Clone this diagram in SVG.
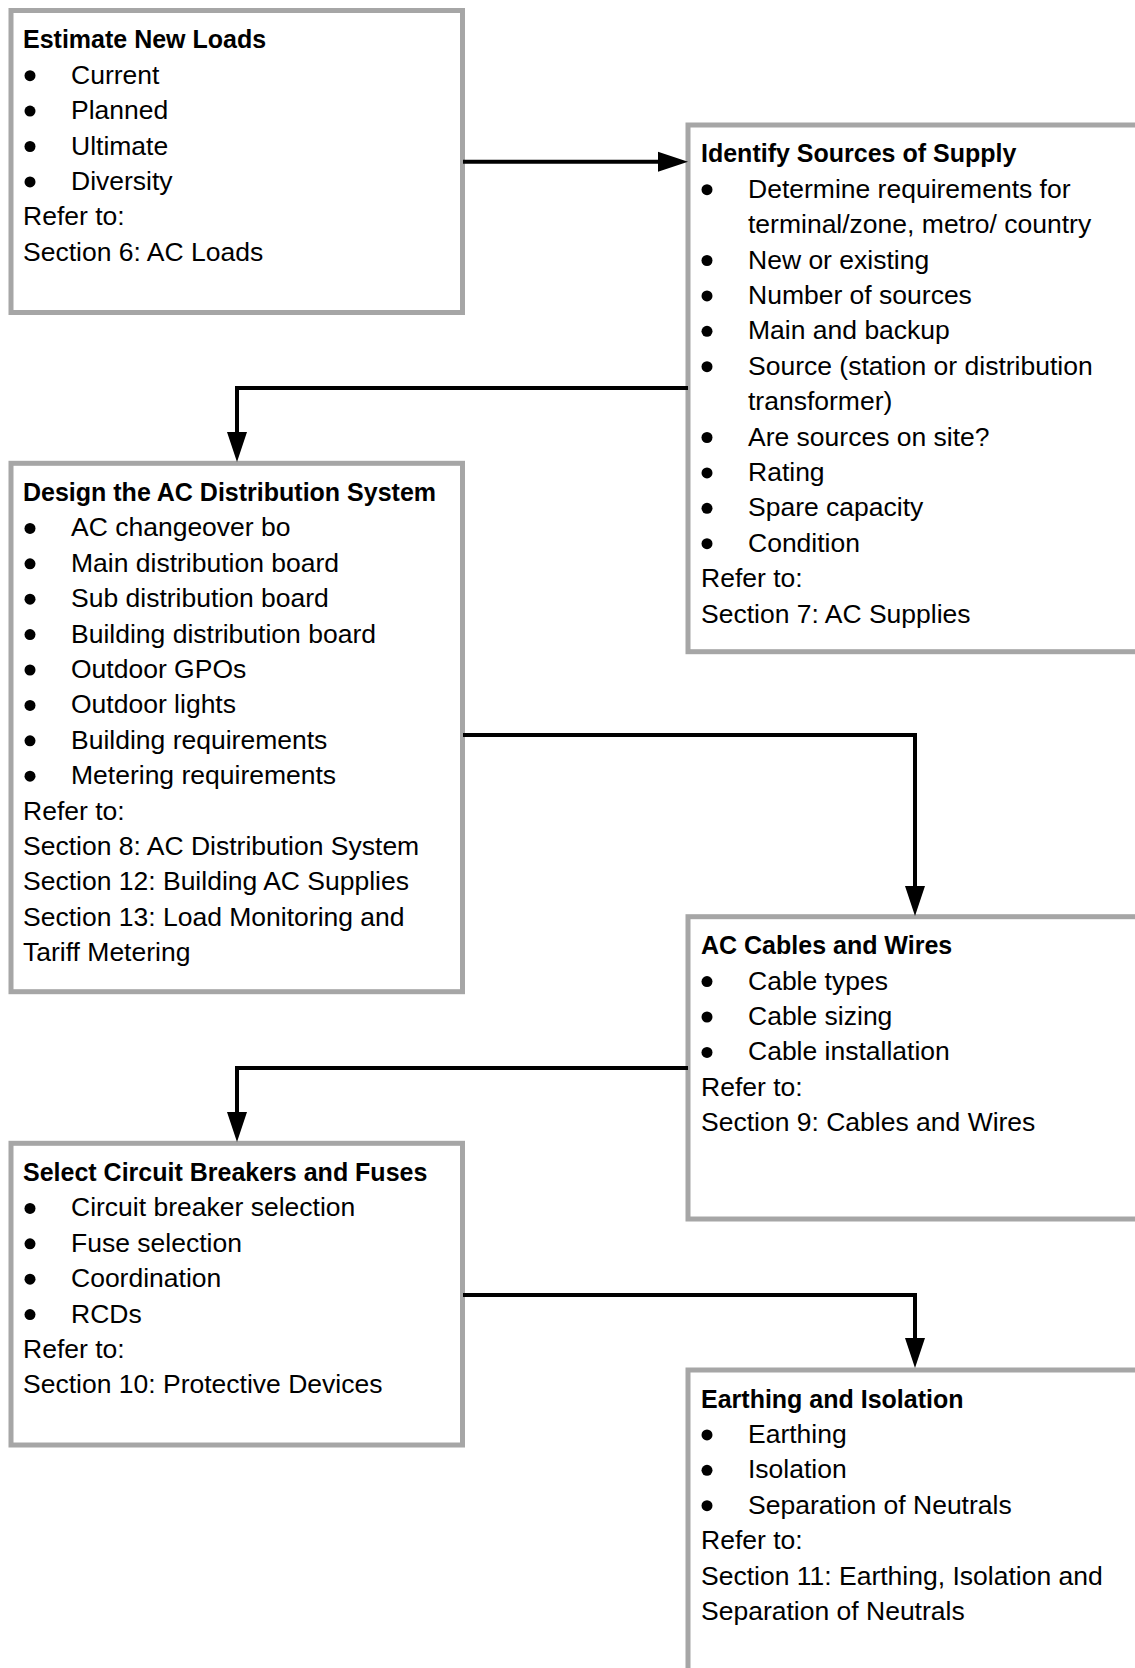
<svg xmlns="http://www.w3.org/2000/svg" width="1135" height="1668" viewBox="0 0 1135 1668">
<style>
.box{fill:#fff;stroke:#a6a6a6;stroke-width:5}
.t{font-family:"Liberation Sans",Arial,sans-serif;font-size:26.5px;fill:#000}
.h{font-family:"Liberation Sans",Arial,sans-serif;font-size:25px;font-weight:bold;fill:#000}
.b{fill:#000}
.c{fill:none;stroke:#000;stroke-width:4}
</style>
<defs>
<marker id="ah" viewBox="0 0 30 20" refX="20" refY="10" markerWidth="30" markerHeight="20" markerUnits="userSpaceOnUse" orient="auto" overflow="visible">
<path d="M0,0 L30,10 L0,20 Z" fill="#000"/>
</marker>
</defs>
<rect width="1135" height="1668" fill="#fff"/>

<g id="n1">
<rect class="box" x="11" y="10.5" width="451.5" height="302"/>
<text class="h" x="23" y="48.3">Estimate New Loads</text>
<circle class="b" cx="30" cy="75.7" r="5.5"/><text class="t" x="71" y="83.7">Current</text>
<circle class="b" cx="30" cy="111.1" r="5.5"/><text class="t" x="71" y="119.1">Planned</text>
<circle class="b" cx="30" cy="146.5" r="5.5"/><text class="t" x="71" y="154.5">Ultimate</text>
<circle class="b" cx="30" cy="181.9" r="5.5"/><text class="t" x="71" y="189.9">Diversity</text>
<text class="t" x="23" y="225.3">Refer to:</text>
<text class="t" x="23" y="260.7">Section 6: AC Loads</text>
</g>

<g id="n2">
<rect class="box" x="688" y="125" width="470" height="526.7"/>
<text class="h" x="701" y="162.3">Identify Sources of Supply</text>
<circle class="b" cx="707" cy="189.7" r="5.5"/><text class="t" x="748" y="197.7">Determine requirements for</text>
<text class="t" x="748" y="233.1">terminal/zone, metro/ country</text>
<circle class="b" cx="707" cy="260.5" r="5.5"/><text class="t" x="748" y="268.5">New or existing</text>
<circle class="b" cx="707" cy="295.9" r="5.5"/><text class="t" x="748" y="303.9">Number of sources</text>
<circle class="b" cx="707" cy="331.3" r="5.5"/><text class="t" x="748" y="339.3">Main and backup</text>
<circle class="b" cx="707" cy="366.7" r="5.5"/><text class="t" x="748" y="374.7">Source (station or distribution</text>
<text class="t" x="748" y="410.1">transformer)</text>
<circle class="b" cx="707" cy="437.5" r="5.5"/><text class="t" x="748" y="445.5">Are sources on site?</text>
<circle class="b" cx="707" cy="472.9" r="5.5"/><text class="t" x="748" y="480.9">Rating</text>
<circle class="b" cx="707" cy="508.3" r="5.5"/><text class="t" x="748" y="516.3">Spare capacity</text>
<circle class="b" cx="707" cy="543.7" r="5.5"/><text class="t" x="748" y="551.7">Condition</text>
<text class="t" x="701" y="587.1">Refer to:</text>
<text class="t" x="701" y="622.5">Section 7: AC Supplies</text>
</g>

<g id="n3">
<rect class="box" x="11" y="463.3" width="451.5" height="528.4"/>
<text class="h" x="23" y="501">Design the AC Distribution System</text>
<circle class="b" cx="30" cy="528.4" r="5.5"/><text class="t" x="71" y="536.4">AC changeover bo</text>
<circle class="b" cx="30" cy="563.8" r="5.5"/><text class="t" x="71" y="571.8">Main distribution board</text>
<circle class="b" cx="30" cy="599.2" r="5.5"/><text class="t" x="71" y="607.2">Sub distribution board</text>
<circle class="b" cx="30" cy="634.6" r="5.5"/><text class="t" x="71" y="642.6">Building distribution board</text>
<circle class="b" cx="30" cy="670" r="5.5"/><text class="t" x="71" y="678">Outdoor GPOs</text>
<circle class="b" cx="30" cy="705.4" r="5.5"/><text class="t" x="71" y="713.4">Outdoor lights</text>
<circle class="b" cx="30" cy="740.8" r="5.5"/><text class="t" x="71" y="748.8">Building requirements</text>
<circle class="b" cx="30" cy="776.2" r="5.5"/><text class="t" x="71" y="784.2">Metering requirements</text>
<text class="t" x="23" y="819.6">Refer to:</text>
<text class="t" x="23" y="855">Section 8: AC Distribution System</text>
<text class="t" x="23" y="890.4">Section 12: Building AC Supplies</text>
<text class="t" x="23" y="925.8">Section 13: Load Monitoring and</text>
<text class="t" x="23" y="961.2">Tariff Metering</text>
</g>

<g id="n4">
<rect class="box" x="688" y="916.7" width="470" height="302.3"/>
<text class="h" x="701" y="954.2">AC Cables and Wires</text>
<circle class="b" cx="707" cy="981.6" r="5.5"/><text class="t" x="748" y="989.6">Cable types</text>
<circle class="b" cx="707" cy="1017" r="5.5"/><text class="t" x="748" y="1025">Cable sizing</text>
<circle class="b" cx="707" cy="1052.4" r="5.5"/><text class="t" x="748" y="1060.4">Cable installation</text>
<text class="t" x="701" y="1095.8">Refer to:</text>
<text class="t" x="701" y="1131.2">Section 9: Cables and Wires</text>
</g>

<g id="n5">
<rect class="box" x="11" y="1143.3" width="451.5" height="301.7"/>
<text class="h" x="23" y="1181">Select Circuit Breakers and Fuses</text>
<circle class="b" cx="30" cy="1208.4" r="5.5"/><text class="t" x="71" y="1216.4">Circuit breaker selection</text>
<circle class="b" cx="30" cy="1243.8" r="5.5"/><text class="t" x="71" y="1251.8">Fuse selection</text>
<circle class="b" cx="30" cy="1279.2" r="5.5"/><text class="t" x="71" y="1287.2">Coordination</text>
<circle class="b" cx="30" cy="1314.6" r="5.5"/><text class="t" x="71" y="1322.6">RCDs</text>
<text class="t" x="23" y="1358">Refer to:</text>
<text class="t" x="23" y="1393.4">Section 10: Protective Devices</text>
</g>

<g id="n6">
<rect class="box" x="688" y="1370" width="470" height="330"/>
<text class="h" x="701" y="1407.5">Earthing and Isolation</text>
<circle class="b" cx="707" cy="1434.9" r="5.5"/><text class="t" x="748" y="1442.9">Earthing</text>
<circle class="b" cx="707" cy="1470.3" r="5.5"/><text class="t" x="748" y="1478.3">Isolation</text>
<circle class="b" cx="707" cy="1505.7" r="5.5"/><text class="t" x="748" y="1513.7">Separation of Neutrals</text>
<text class="t" x="701" y="1549.1">Refer to:</text>
<text class="t" x="701" y="1584.5">Section 11: Earthing, Isolation and</text>
<text class="t" x="701" y="1619.9">Separation of Neutrals</text>
</g>

<g id="connectors">
<path class="c" d="M463,161.7 H678" marker-end="url(#ah)"/>
<path class="c" d="M688,388 H237 V452" marker-end="url(#ah)"/>
<path class="c" d="M463,735 H915 V906" marker-end="url(#ah)"/>
<path class="c" d="M688,1068 H237 V1132" marker-end="url(#ah)"/>
<path class="c" d="M463,1295 H915 V1358" marker-end="url(#ah)"/>
</g>
</svg>
